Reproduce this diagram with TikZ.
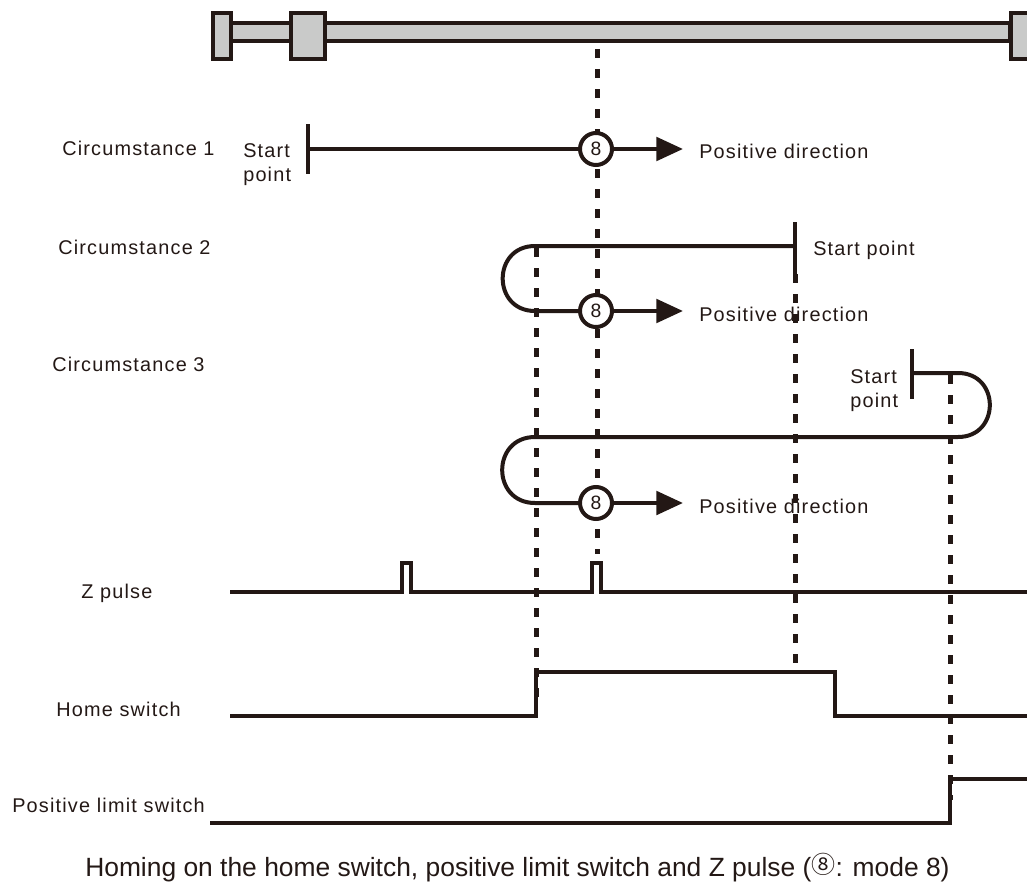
\documentclass[tikz,border=0pt]{standalone}
\usepackage{fontspec}
\usepackage{xcolor}
\setmainfont{Liberation Sans}
\newfontfamily\circfont{Noto Sans CJK SC}
\definecolor{diagInk}{HTML}{231815}
\definecolor{diagRod}{HTML}{C9CAC9}
\usetikzlibrary{arrows.meta}

\begin{document}
\begin{tikzpicture}[
  x=0.75pt, y=-0.75pt,
  rodpart/.style={draw=diagInk, line width=3pt, fill=diagRod, inner sep=0pt},
  guide/.style={draw=diagInk, line width=3.75pt, dash pattern=on 6.75pt off 8.25pt},
  travel/.style={draw=diagInk, line width=3pt},
  signal/.style={draw=diagInk, line width=2.6pt},
  tick/.style={draw=diagInk, line width=3pt},
  flow/.style={draw=diagInk, line width=3.2pt, -{Triangle[length=20pt, width=17.5pt]}},
  modeball/.style={circle, draw=diagInk, line width=3pt, fill=white, minimum size=24pt, inner sep=0pt, text=diagInk, font=\fontsize{14.5pt}{16pt}\selectfont},
  label/.style={anchor=base west, inner sep=0pt, text=diagInk, align=left, font=\fontsize{14.9pt}{16pt}\selectfont\addfontfeatures{LetterSpace=6}}
]
\useasboundingbox (0,0) rectangle (1027,881);
\clip (0,0) rectangle (1027,881);

% Anchor points
\coordinate (c2top) at (535,246);
\coordinate (c2bot) at (535,311);
\coordinate (c3low) at (535,437);
\coordinate (c3bot) at (535,503);
\coordinate (c3turn) at (958,373);
\coordinate (c3back) at (958,437);
\coordinate (homeup) at (536,716);
\coordinate (homedown) at (835,716);
\coordinate (limitup) at (950,823);

% Dashed guides
\draw[guide] (597,29) -- (597,554);
\draw[guide] (536,248) -- (536,697);
\draw[guide] (795,274) -- (795,663);
\draw[guide] (950,375) -- (950,800);

% Rod with the two end stops and the slider
\node[rodpart, minimum width=585pt, minimum height=13.5pt] (rod) at (620,32) {};
\node[rodpart, minimum width=13.5pt, minimum height=34.5pt] (stopleft) at (222,36) {};
\node[rodpart, minimum width=25pt, minimum height=34.5pt] (slider) at (308,36) {};
\node[rodpart, minimum width=30pt, minimum height=34.5pt] (stopright) at (1031,36) {};

% Circumstance 1
\node[modeball] (ballA) at (596,149) {8};
\coordinate (startA) at (308,149);
\coordinate (arrowA) at (683,149);
\draw[tick] (308,124) -- (308,174);
\draw[travel] (startA) -- (ballA);
\draw[flow] (ballA) -- (arrowA);

% Circumstance 2
\node[modeball] (ballB) at (596,311) {8};
\coordinate (startB) at (795,246);
\coordinate (arrowB) at (683,311);
\draw[tick] (795,222) -- (795,274);
\draw[travel] (startB) -- (c2top) to[out=180, in=180, looseness=1.7] (c2bot) -- (ballB);
\draw[flow] (ballB) -- (arrowB);

% Circumstance 3
\node[modeball] (ballC) at (596,503) {8};
\coordinate (startC) at (912,373);
\coordinate (arrowC) at (683,503);
\draw[tick] (912,349) -- (912,399);
\draw[travel] (startC) -- (c3turn) to[out=0, in=0, looseness=1.7] (c3back) -- (c3low) to[out=180, in=180, looseness=1.7] (c3bot) -- (ballC);
\draw[flow] (ballC) -- (arrowC);

% Signals
\draw[signal] (230,592) -- (402,592) -- (402,563) -- (411,563) -- (411,592) -- (592,592) -- (592,563) -- (601,563) -- (601,592) -- (1027,592);
\draw[signal] (230,716) -- (homeup) -- (536,672) -- (835,672) -- (homedown) -- (1027,716);
\draw[signal] (210,823) -- (limitup) -- (950,779) -- (1027,779);

% Labels
\node[label] (nameA) at (62,155) {Circumstance 1};
\node[label] (nameB) at (58,254) {Circumstance 2};
\node[label] (nameC) at (52,371) {Circumstance 3};
\node[label] (nameZ) at (81,598) {Z pulse};
\node[label] (nameHome) at (56,716) {Home switch};
\node[label] (nameLimit) at (12,812) {Positive limit switch};
\node[label] (textA) at (243,157) {Start};
\node[label] (textAb) at (243,181) {point};
\node[label] (textB) at (813,255) {Start point};
\node[label] (textC) at (850,383) {Start};
\node[label] (textCb) at (850,407) {point};
\node[label] (dirA) at (699,158) {Positive direction};
\node[label] (dirB) at (699,321) {Positive direction};
\node[label] (dirC) at (699,513) {Positive direction};
\node[label, font=\fontsize{19.8pt}{22pt}\selectfont] (caption) at (85,876) {Homing on the home switch, positive limit switch and Z pulse (\raisebox{2.25pt}{\circfont\fontsize{18pt}{20pt}\selectfont ⑧}: mode 8)};

\end{tikzpicture}
\end{document}
